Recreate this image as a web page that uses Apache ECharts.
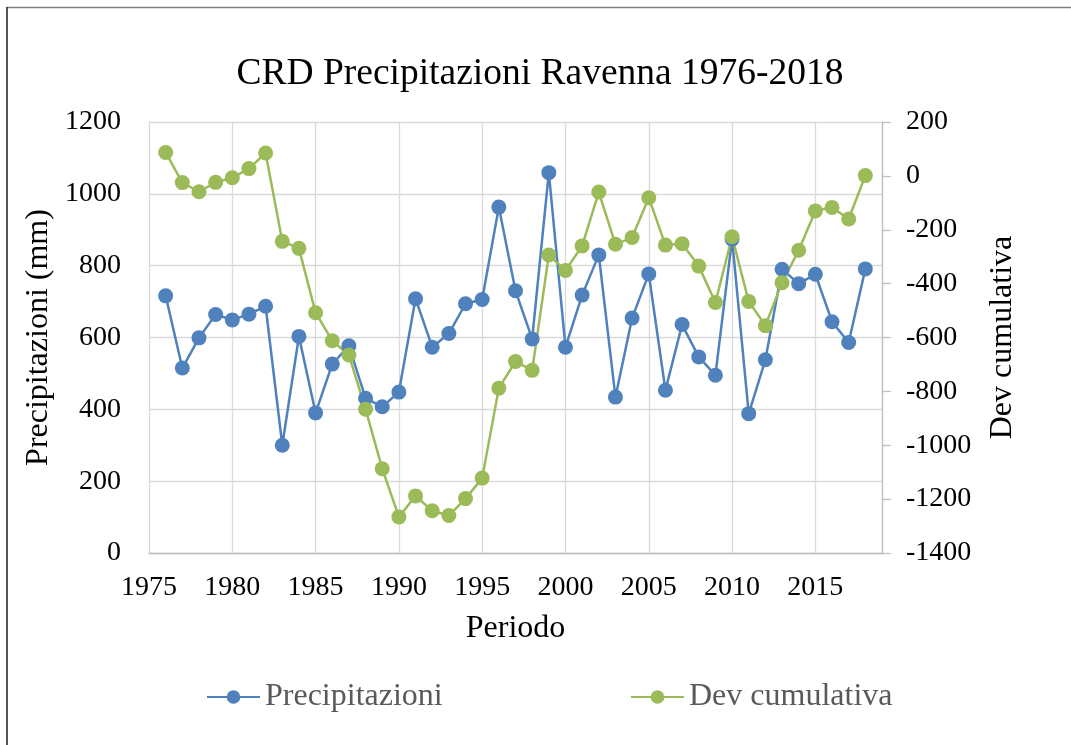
<!DOCTYPE html>
<html>
<head>
<meta charset="utf-8">
<script src="https://cdn.jsdelivr.net/npm/echarts@6/dist/echarts.min.js"></script>
<style>
  html, body { margin: 0; padding: 0; background: #fff; }
  #chart { width: 1071px; height: 745px; }
</style>
</head>
<body>
<div id="chart"></div>
<script>
const years = [
  1976, 1977, 1978, 1979, 1980, 1981, 1982, 1983, 1984, 1985,
  1986, 1987, 1988, 1989, 1990, 1991, 1992, 1993, 1994, 1995,
  1996, 1997, 1998, 1999, 2000, 2001, 2002, 2003, 2004, 2005,
  2006, 2007, 2008, 2009, 2010, 2011, 2012, 2013, 2014, 2015,
  2016, 2017, 2018
]
// annual rainfall (mm)
const precipitazioni = [
  716, 515, 599, 664, 649, 665, 687, 300, 603, 390,
  526, 577, 431, 407, 448, 708, 573, 611, 694, 706,
  963, 730, 596, 1059, 573, 718, 830, 434, 654, 777,
  453, 636, 546, 495, 874, 388, 538, 790, 750, 776,
  644, 586, 791
]
// cumulative deviation from the mean
const devCumulativa = [
  87, -25, -59, -24, -7, 27, 85, -243, -269, -508,
  -612, -665, -866, -1087, -1266, -1188, -1243, -1261, -1198, -1122,
  -788, -689, -722, -294, -351, -260, -60, -254, -229, -81,
  -257, -252, -335, -470, -226, -466, -556, -397, -276, -130,
  -117, -160, 1
]

const font = "'Liberation Serif', 'Times New Roman', serif"
const blue = '#4F81BD'
const green = '#9BBB59'
const plain = v => String(v)

const chart = echarts.init(document.getElementById('chart'))

chart.setOption({
  animation: false,
  backgroundColor: '#fff',
  title: {
    text: 'CRD Precipitazioni Ravenna 1976-2018',
    left: 535,
    textAlign: 'center',
    top: 50,
    textStyle: { fontFamily: font, fontSize: 37.5, fontWeight: 'normal', color: '#000' }
  },
  graphic: [
    { type: 'line', shape: { x1: 7, y1: 7.5, x2: 1071, y2: 7.5 }, style: { stroke: '#808080', lineWidth: 1.5 } },
    { type: 'line', shape: { x1: 7, y1: 7, x2: 7, y2: 745 }, style: { stroke: '#1a1a1a', lineWidth: 1.5 } }
  ],
  legend: [
    {
      data: ['Precipitazioni'],
      left: 206,
      top: 681,
      padding: 0,
      itemWidth: 53,
      itemHeight: 17,
      textStyle: { fontFamily: font, fontSize: 32, color: '#595959' }
    },
    {
      data: ['Dev cumulativa'],
      left: 630,
      top: 681,
      padding: 0,
      itemWidth: 53,
      itemHeight: 17,
      textStyle: { fontFamily: font, fontSize: 32, color: '#595959' }
    }
  ],
  grid: { left: 149, right: 189, top: 122, bottom: 192, containLabel: false },
  xAxis: {
    type: 'value',
    min: 1975,
    max: 2019,
    interval: 5,
    name: 'Periodo',
    nameLocation: 'middle',
    nameGap: 60,
    nameTextStyle: { fontFamily: font, fontSize: 32, color: '#000' },
    axisLine: { show: true, lineStyle: { color: '#BFBFBF', width: 1.3 } },
    axisTick: { show: false },
    axisLabel: {
      margin: 21,
      showMaxLabel: false,
      formatter: plain,
      fontFamily: font, fontSize: 28, color: '#000'
    },
    splitLine: { show: true, lineStyle: { color: '#D9D9D9', width: 1.3 } }
  },
  yAxis: [
    {
      type: 'value',
      min: 0,
      max: 1200,
      interval: 200,
      name: 'Precipitazioni (mm)',
      nameLocation: 'middle',
      nameRotate: 90,
      nameGap: 89,
      nameTextStyle: { fontFamily: font, fontSize: 32, color: '#000' },
      axisLine: { show: false },
      axisTick: { show: false },
      axisLabel: { margin: 28, formatter: plain, fontFamily: font, fontSize: 28, color: '#000' },
      splitLine: { show: true, lineStyle: { color: '#D9D9D9', width: 1.3 } }
    },
    {
      type: 'value',
      position: 'right',
      min: -1400,
      max: 200,
      interval: 200,
      name: 'Dev cumulativa',
      nameLocation: 'middle',
      nameRotate: 90,
      nameGap: 105,
      nameTextStyle: { fontFamily: font, fontSize: 32, color: '#000' },
      axisLine: { show: true, lineStyle: { color: '#BFBFBF', width: 1.3 } },
      axisTick: { show: true, inside: false, length: 9, lineStyle: { color: '#BFBFBF', width: 1.3 } },
      axisLabel: { margin: 24, formatter: plain, fontFamily: font, fontSize: 28, color: '#000' },
      splitLine: { show: false }
    }
  ],
  series: [
    {
      name: 'Precipitazioni',
      type: 'line',
      yAxisIndex: 0,
      data: years.map((y, i) => [y, precipitazioni[i]]),
      symbol: 'circle',
      symbolSize: 15,
      lineStyle: { color: blue, width: 2.5 },
      itemStyle: { color: blue }
    },
    {
      name: 'Dev cumulativa',
      type: 'line',
      yAxisIndex: 1,
      data: years.map((y, i) => [y, devCumulativa[i]]),
      symbol: 'circle',
      symbolSize: 15,
      lineStyle: { color: green, width: 2.5 },
      itemStyle: { color: green }
    }
  ]
})
</script>
</body>
</html>
